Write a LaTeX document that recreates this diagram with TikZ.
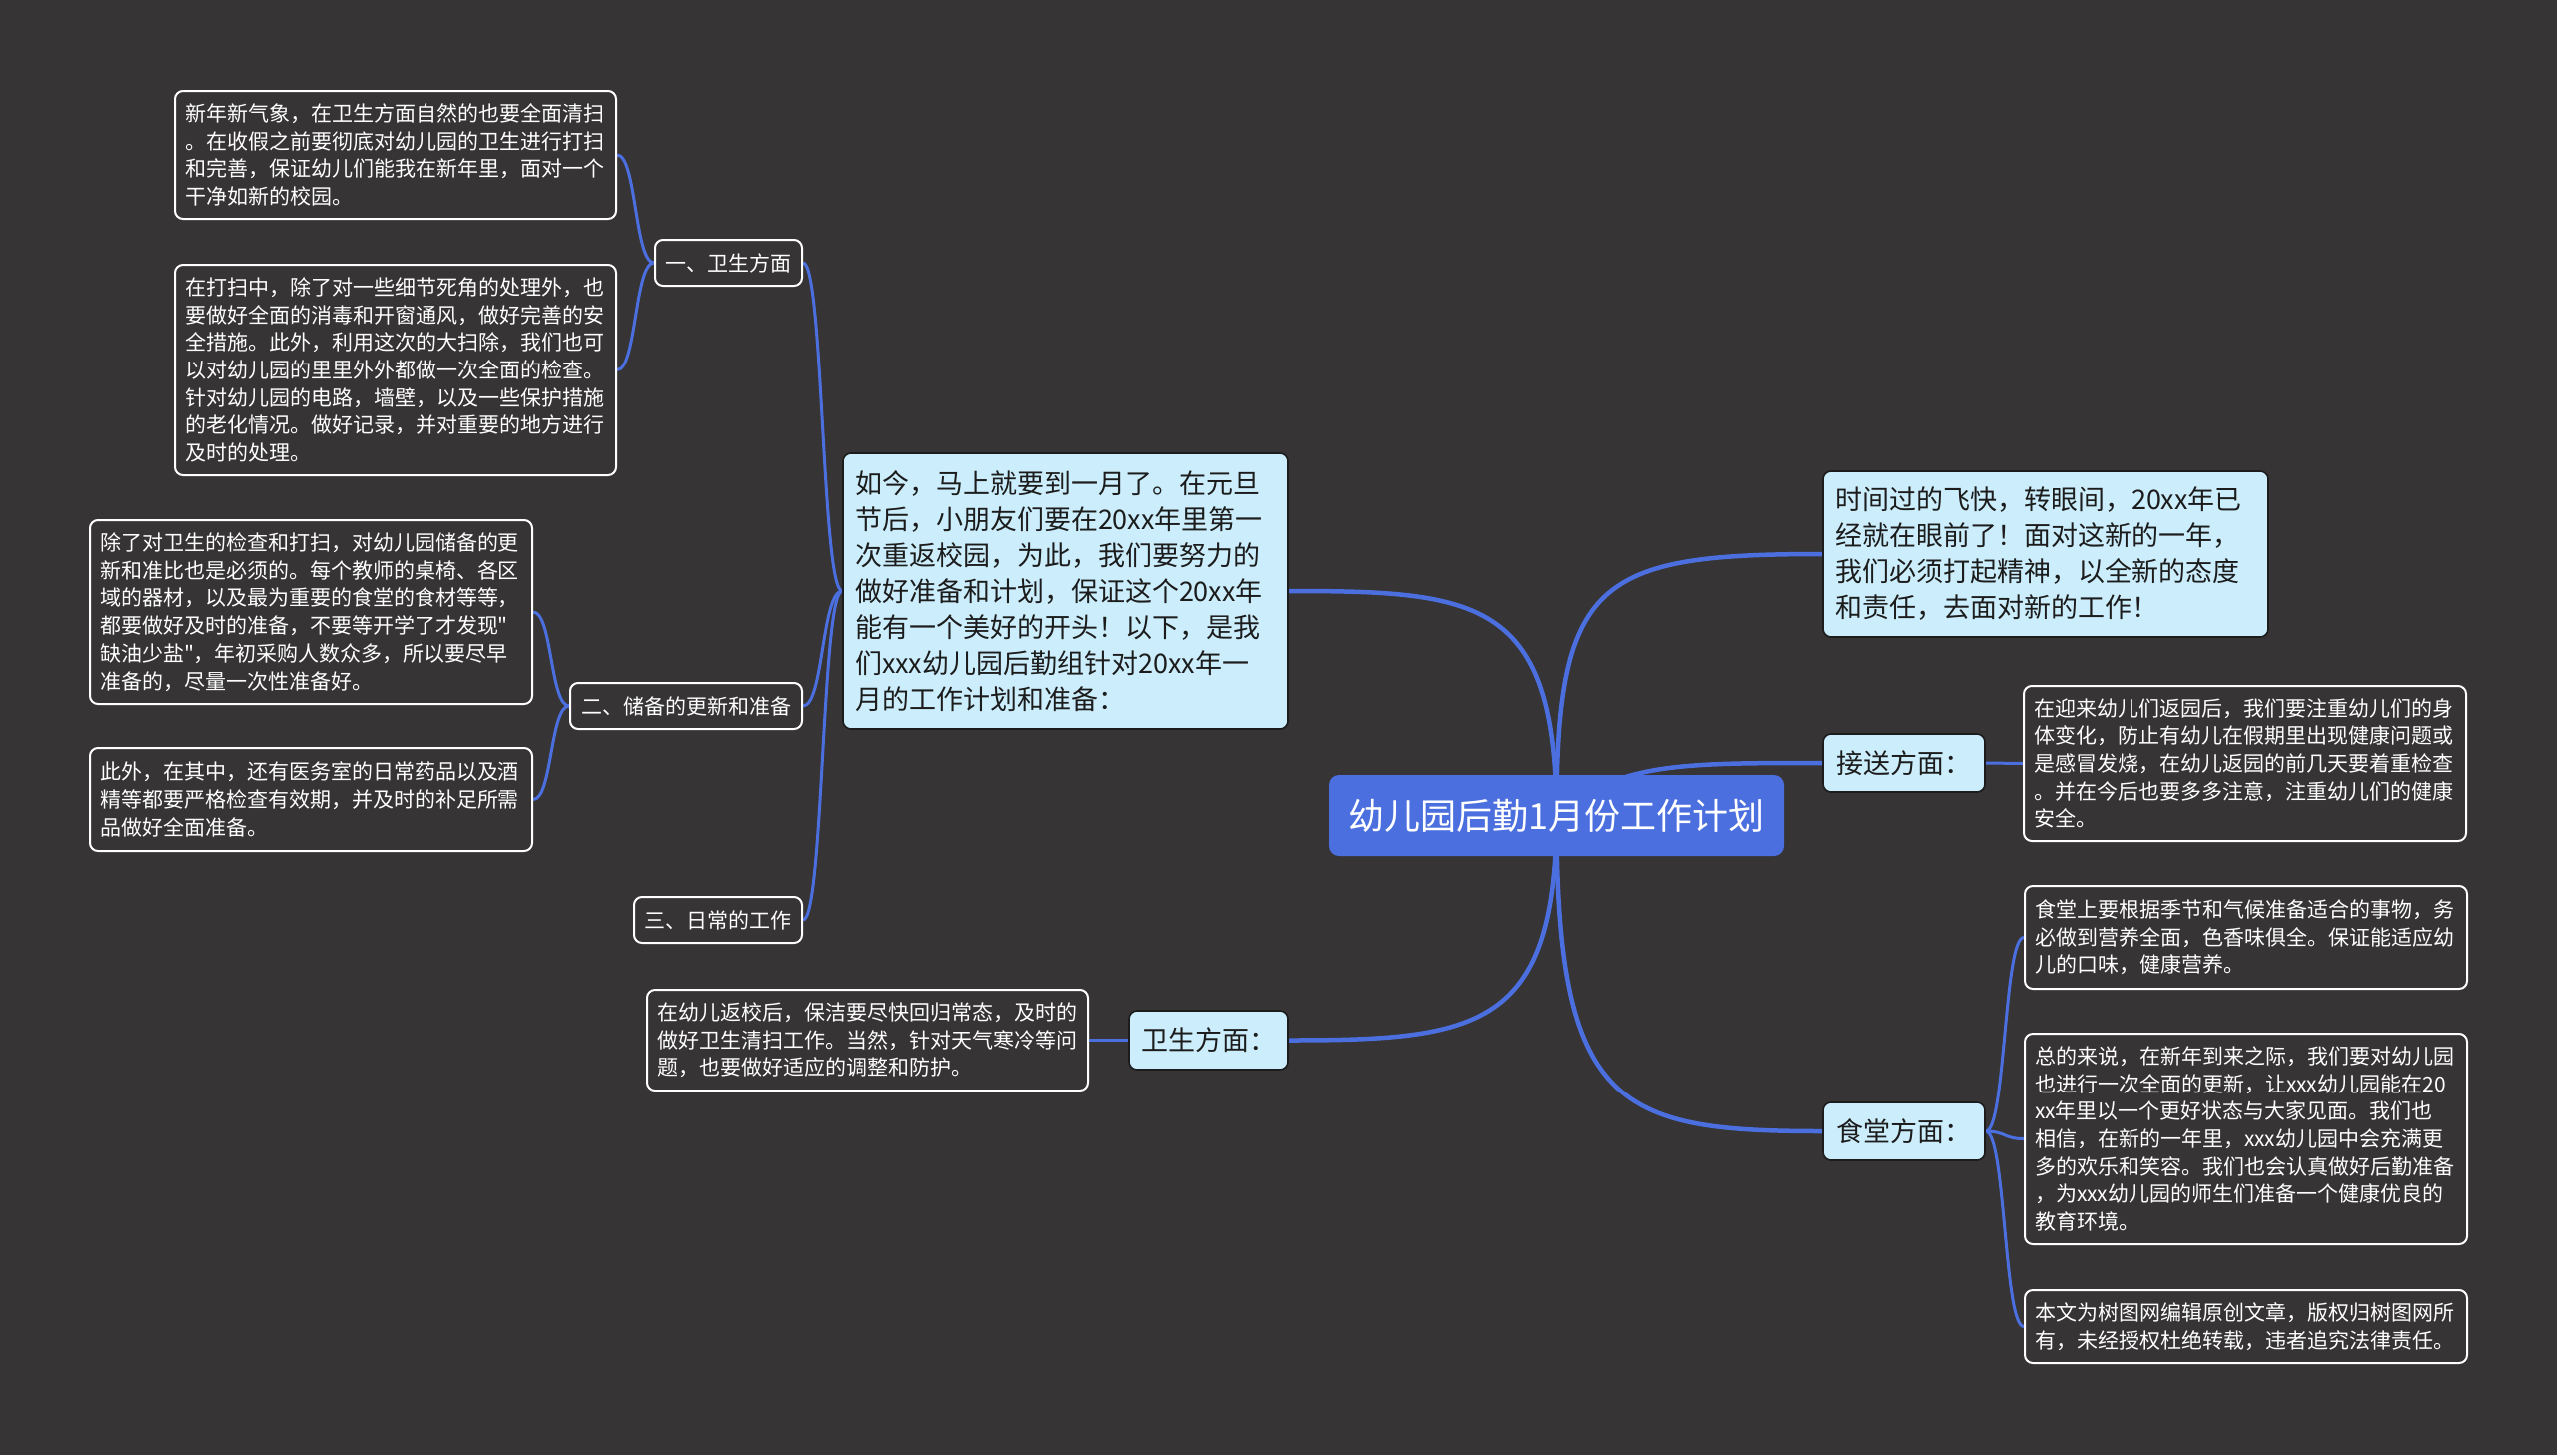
\documentclass[tikz,border=0pt]{standalone}
\usepackage{fontspec}
\newfontfamily\cjk{Noto Sans CJK SC}
\usetikzlibrary{backgrounds}
\definecolor{bgc}{RGB}{54,52,53}
\definecolor{blu}{RGB}{75,111,222}
\definecolor{lite}{RGB}{204,238,252}
\definecolor{ink}{RGB}{28,28,28}
\begin{document}
\begin{tikzpicture}[x=1pt,y=-1pt,
  darkbox/.style={draw=white, line width=2pt, fill=bgc, rounded corners=8pt, text=white, align=left,
    inner xsep=10pt, inner ysep=0pt, font=\cjk\fontsize{21}{27.7}\selectfont},
  darklabel/.style={draw=white, line width=2pt, fill=bgc, rounded corners=8pt, text=white, align=center,
    inner sep=0pt, minimum height=46pt, font=\cjk\fontsize{21}{25}\selectfont},
  litebox/.style={draw=ink, line width=1.6pt, fill=lite, rounded corners=8pt, text=ink, align=left,
    inner xsep=12pt, inner ysep=0pt, font=\cjk\fontsize{27}{36}\selectfont},
  litelabel/.style={draw=ink, line width=1.6pt, fill=lite, rounded corners=8pt, text=ink, align=center,
    inner sep=0pt, minimum width=162pt, minimum height=58pt, font=\cjk\fontsize{27}{32}\selectfont},
  centralbox/.style={fill=blu, rounded corners=10pt, text=white, align=center, inner sep=0pt,
    minimum width=455pt, minimum height=81pt, font=\cjk\fontsize{36}{40}\selectfont},
  mainline/.style={draw=blu, line width=4.5pt},
  subline/.style={draw=blu, line width=3pt}
]
\useasboundingbox (0,0) rectangle (2560,1457);

% central
\node[centralbox] (c) at (1558.5,816.5) {幼儿园后勤1月份工作计划};

% first level
\node[litebox, text width=422pt, minimum height=276pt] (rujin) at (1067,592) {如今，马上就要到一月了。在元旦\\节后，小朋友们要在20xx年里第一\\次重返校园，为此，我们要努力的\\做好准备和计划，保证这个20xx年\\能有一个美好的开头！以下，是我\\们xxx幼儿园后勤组针对20xx年一\\月的工作计划和准备：};
\node[litebox, text width=422pt, minimum height=166pt] (shijian) at (2048,555) {时间过的飞快，转眼间，20xx年已\\经就在眼前了！面对这新的一年，\\我们必须打起精神，以全新的态度\\和责任，去面对新的工作！};
\node[litelabel] (jiesong) at (1906,764) {接送方面：};
\node[litelabel] (shitang) at (1906,1133) {食堂方面：};
\node[litelabel, minimum width=160pt, minimum height=59pt] (weisheng) at (1210,1041.5) {卫生方面：};

% labels under 如今
\node[darklabel, minimum width=147pt] (l1) at (729.5,263) {一、卫生方面};
\node[darklabel, minimum width=232pt] (l2) at (687,707) {二、储备的更新和准备};
\node[darklabel, minimum width=168pt] (l3) at (719,921) {三、日常的工作};

% dark text boxes
\node[darkbox, text width=422pt, minimum height=128pt] (n11) at (396,155) {新年新气象，在卫生方面自然的也要全面清扫\\。在收假之前要彻底对幼儿园的卫生进行打扫\\和完善，保证幼儿们能我在新年里，面对一个\\干净如新的校园。};
\node[darkbox, text width=422pt, minimum height=211pt] (n12) at (396,370.5) {在打扫中，除了对一些细节死角的处理外，也\\要做好全面的消毒和开窗通风，做好完善的安\\全措施。此外，利用这次的大扫除，我们也可\\以对幼儿园的里里外外都做一次全面的检查。\\针对幼儿园的电路，墙壁，以及一些保护措施\\的老化情况。做好记录，并对重要的地方进行\\及时的处理。};
\node[darkbox, text width=423pt, minimum height=184pt] (n21) at (311.5,613) {除了对卫生的检查和打扫，对幼儿园储备的更\\新和准比也是必须的。每个教师的桌椅、各区\\域的器材，以及最为重要的食堂的食材等等，\\都要做好及时的准备，不要等开学了才发现"\\缺油少盐"，年初采购人数众多，所以要尽早\\准备的，尽量一次性准备好。};
\node[darkbox, text width=423pt, minimum height=103pt] (n22) at (311.5,800.5) {此外，在其中，还有医务室的日常药品以及酒\\精等都要严格检查有效期，并及时的补足所需\\品做好全面准备。};
\node[darkbox, text width=421pt, minimum height=101pt] (ws1) at (868.5,1041.5) {在幼儿返校后，保洁要尽快回归常态，及时的\\做好卫生清扫工作。当然，针对天气寒冷等问\\题，也要做好适应的调整和防护。};
\node[darkbox, text width=423pt, minimum height=155pt] (js1) at (2247.5,764.5) {在迎来幼儿们返园后，我们要注重幼儿们的身\\体变化，防止有幼儿在假期里出现健康问题或\\是感冒发烧，在幼儿返园的前几天要着重检查\\。并在今后也要多多注意，注重幼儿们的健康\\安全。};
\node[darkbox, text width=423pt, minimum height=103pt] (st1) at (2248.5,938.5) {食堂上要根据季节和气候准备适合的事物，务\\必做到营养全面，色香味俱全。保证能适应幼\\儿的口味，健康营养。};
\node[darkbox, text width=423pt, minimum height=211pt] (st2) at (2248.5,1140.5) {总的来说，在新年到来之际，我们要对幼儿园\\也进行一次全面的更新，让xxx幼儿园能在20\\xx年里以一个更好状态与大家见面。我们也\\相信，在新的一年里，xxx幼儿园中会充满更\\多的欢乐和笑容。我们也会认真做好后勤准备\\，为xxx幼儿园的师生们准备一个健康优良的\\教育环境。};
\node[darkbox, text width=423pt, minimum height=73pt] (st3) at (2248.5,1328.5) {本文为树图网编辑原创文章，版权归树图网所\\有，未经授权杜绝转载，违者追究法律责任。};

\begin{scope}[on background layer]
\fill[bgc] (0,0) rectangle (2560,1457);
\draw[mainline] (c.center) .. controls (1558,600) and (1480,592) .. (rujin.east);
\draw[mainline] (c.center) .. controls (1558,580) and (1600,555) .. (shijian.west);
\draw[mainline] (c.center) .. controls (1620,764) and (1680,764) .. (jiesong.west);
\draw[mainline] (c.center) .. controls (1558,1030) and (1480,1041.5) .. (weisheng.east);
\draw[mainline] (c.center) .. controls (1558,1110) and (1620,1133) .. (shitang.west);
\draw[subline] (rujin.west) .. controls +(-20.5,0) and +(20.5,0) .. (l1.east);
\draw[subline] (rujin.west) .. controls +(-20.5,0) and +(20.5,0) .. (l2.east);
\draw[subline] (rujin.west) .. controls +(-20.5,0) and +(20.5,0) .. (l3.east);
\draw[subline] (l1.west) .. controls +(-19.5,0) and +(19.5,0) .. (n11.east);
\draw[subline] (l1.west) .. controls +(-19.5,0) and +(19.5,0) .. (n12.east);
\draw[subline] (l2.west) .. controls +(-19,0) and +(19,0) .. (n21.east);
\draw[subline] (l2.west) .. controls +(-19,0) and +(19,0) .. (n22.east);
\draw[subline] (weisheng.west) -- (ws1.east);
\draw[subline] (jiesong.east) -- (js1.west);
\draw[subline] (shitang.east) .. controls +(20,0) and +(-20,0) .. (st1.west);
\draw[subline] (shitang.east) .. controls +(20,0) and +(-20,0) .. (st2.west);
\draw[subline] (shitang.east) .. controls +(20,0) and +(-20,0) .. (st3.west);
\end{scope}
\end{tikzpicture}
\end{document}
